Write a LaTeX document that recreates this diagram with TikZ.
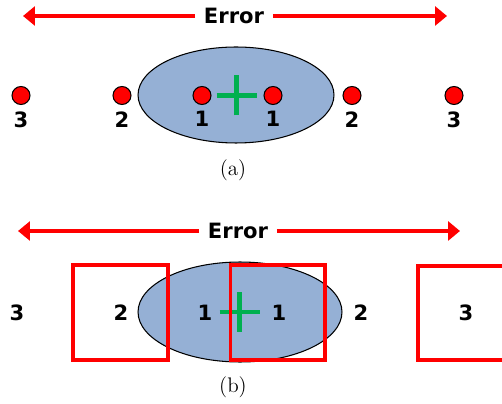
\documentclass[tikz,border=0pt]{standalone}
\usepackage{fontspec}
\setsansfont{DejaVu Sans}
\usetikzlibrary{arrows.meta,shapes.geometric}
\definecolor{errred}{RGB}{255,0,0}
\definecolor{blobblue}{RGB}{149,176,213}
\definecolor{crossgreen}{RGB}{0,176,80}

\begin{document}
\begin{tikzpicture}[x=0.02cm, y=-0.02cm,
  errarrow/.style={draw=errred, line width=2.55pt, -{Triangle[length=0.24cm, width=0.38cm]}},
  errlabel/.style={font=\sffamily\bfseries\fontsize{12}{14}\selectfont, inner xsep=0.17cm, inner ysep=0pt},
  blob/.style={ellipse, draw=black, line width=0.6pt, fill=blobblue, inner sep=0pt},
  cross/.style={draw=crossgreen, line width=2.8pt},
  dot/.style={circle, draw=black, line width=0.6pt, fill=errred, minimum size=0.36cm, inner sep=0pt},
  num/.style={font=\sffamily\bfseries\fontsize{12}{14}\selectfont, inner sep=0pt},
  win/.style={draw=errred, line width=1.8pt},
  caption/.style={font=\fontsize{12}{14}\selectfont, inner sep=0pt}]
  \useasboundingbox (0,0) rectangle (502,404);
  \clip (0,0) rectangle (502,404);

  % (a) point samples
  \node[errlabel] (errA) at (234,16) {Error};
  \coordinate (errAleft) at (23,16);
  \coordinate (errAright) at (447,16);
  \draw[errarrow] (errA.west) -- (errAleft);
  \draw[errarrow] (errA.east) -- (errAright);

  \node[blob, minimum width=3.92cm, minimum height=1.92cm] (blobA) at (236,95) {};
  \coordinate (crossA) at (236.5,95.5);
  \draw[cross] ([xshift=-0.4cm]crossA) -- ([xshift=0.4cm]crossA);
  \draw[cross] ([yshift=-0.4cm]crossA) -- ([yshift=0.4cm]crossA);

  \node[dot] (dotAl3) at (21,95.5) {};
  \node[dot] (dotAl2) at (122,95.5) {};
  \node[dot] (dotAl1) at (202,95.5) {};
  \node[dot] (dotAr1) at (273,95.5) {};
  \node[dot] (dotAr2) at (352,95.5) {};
  \node[dot] (dotAr3) at (454,95.5) {};
  \node[num, below=3.5pt] (numAl3) at (dotAl3.south) {3};
  \node[num, below=3.5pt] (numAl2) at (dotAl2.south) {2};
  \node[num, below=3.5pt] (numAl1) at (dotAl1.south) {1};
  \node[num, below=3.5pt] (numAr1) at (dotAr1.south) {1};
  \node[num, below=3.5pt] (numAr2) at (dotAr2.south) {2};
  \node[num, below=3.5pt] (numAr3) at (dotAr3.south) {3};

  \node[caption] (capA) at (233,170) {(a)};

  % (b) box samples
  \node[errlabel] (errB) at (238,231) {Error};
  \coordinate (errBleft) at (18,231);
  \coordinate (errBright) at (460,231);
  \draw[errarrow] (errB.west) -- (errBleft);
  \draw[errarrow] (errB.east) -- (errBright);

  \node[blob, minimum width=4.08cm, minimum height=2.0cm] (blobB) at (240,312) {};
  \coordinate (crossB) at (239.5,312);
  \draw[cross] ([xshift=-0.4cm]crossB) -- ([xshift=0.4cm]crossB);
  \draw[cross] ([yshift=-0.4cm]crossB) -- ([yshift=0.4cm]crossB);

  \draw[win] (73,265) rectangle (168,360);
  \draw[win] (230.5,265) rectangle (325,360);
  \draw[win] (418,266) rectangle (520,360);

  \node[num] (numBl3) at (17,313) {3};
  \node[num] (numBl2) at (121,313) {2};
  \node[num] (numBl1) at (205,313) {1};
  \node[num] (numBr1) at (279,313) {1};
  \node[num] (numBr2) at (361,313) {2};
  \node[num] (numBr3) at (466,313) {3};

  \node[caption] (capB) at (233,387) {(b)};
\end{tikzpicture}
\end{document}
